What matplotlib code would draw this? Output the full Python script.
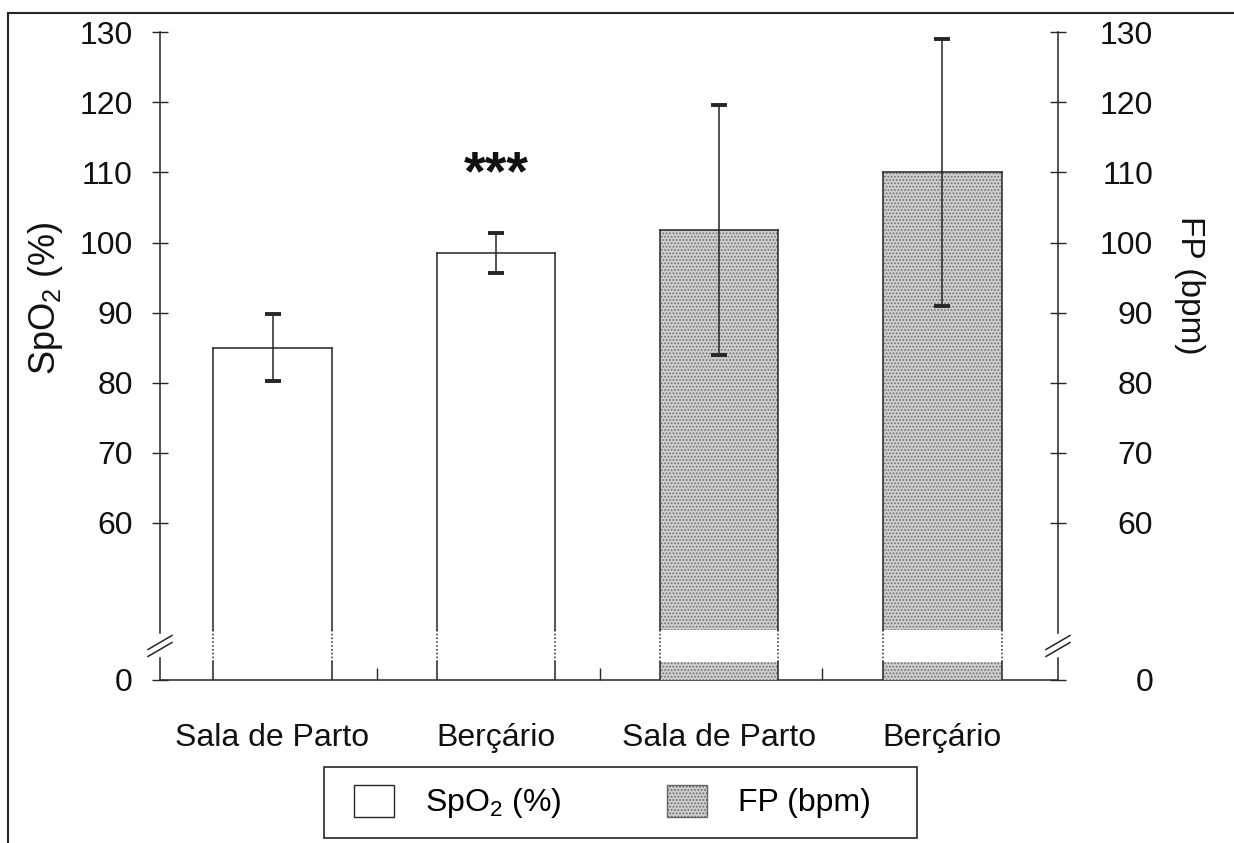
import numpy as np
import matplotlib
matplotlib.use('Agg')
import matplotlib.pyplot as plt
from matplotlib.patches import Patch, Rectangle
from matplotlib.lines import Line2D

plt.rcParams['font.family'] = ['Liberation Sans', 'DejaVu Sans']
plt.rcParams['hatch.color'] = '#6e6e6e'
plt.rcParams['hatch.linewidth'] = 0.8

# dados (media e desvio padrao)
grupos = ['Sala de Parto', 'Berçário', 'Sala de Parto', 'Berçário']
spo2_media = [85.0, 98.5]
spo2_dp = [4.8, 2.8]
fp_media = [101.8, 110.0]
fp_dp = [17.9, 19.0]
yticks = [0, 60, 70, 80, 90, 100, 110, 120, 130]
signif = '***'

# eixo y quebrado: trecho 0-60 comprimido
z0 = 37.6
def fwd(v):
    v = np.asarray(v, dtype=float)
    return np.where(v < 60, z0 + v * (60 - z0) / 60, v)

def inv(y):
    y = np.asarray(y, dtype=float)
    return np.where(y < 60, (y - z0) * 60 / (60 - z0), y)

brk_lo, brk_hi = 7, 19       # faixa da quebra nas barras
ax_lo, ax_hi = 8.5, 18       # faixa da quebra nos eixos
cor = '#262626'
cinza = '#cdcdcd'
fs = 23

x = np.arange(4)
w = 0.53

fig = plt.figure(figsize=(12.34, 8.43), dpi=100)
ax = fig.add_axes([0.12966, 0.19336, 0.72771, 0.76832])
ax.set_yscale('function', functions=(fwd, inv))
ax.set_ylim(0, 130)
ax.set_xlim(-0.504, 3.518)
ax2 = ax.twinx()
ax2.set_yscale('function', functions=(fwd, inv))
ax2.set_ylim(0, 130)

def contorno(a, xs, tops):
    for xc, top in zip(xs, tops):
        for xe in (xc - w / 2, xc + w / 2):
            a.plot([xe, xe], [0, brk_lo], color=cor, lw=1.1, zorder=3)
            a.plot([xe, xe], [brk_lo, brk_hi], color=cor, lw=1.1, ls=(0, (1, 1.5)), zorder=3)
            a.plot([xe, xe], [brk_hi, top], color=cor, lw=1.1, zorder=3)
        a.plot([xc - w / 2, xc + w / 2], [top, top], color=cor, lw=1.1, zorder=3)

# SpO2 - barras brancas
ax.bar(x[:2], spo2_media, w, color='white', linewidth=0, zorder=2)
contorno(ax, x[:2], spo2_media)
ax.errorbar(x[:2], spo2_media, yerr=spo2_dp, fmt='none', ecolor=cor,
            elinewidth=1.1, capsize=6, capthick=2.8, zorder=4)

# FP - barras pontilhadas
fp = np.array(fp_media)
ax2.bar(x[2:], brk_lo, w, color=cinza, hatch='.....', linewidth=0, zorder=2)
ax2.bar(x[2:], fp - brk_hi, w, bottom=brk_hi, color=cinza, hatch='.....', linewidth=0, zorder=2)
contorno(ax2, x[2:], fp_media)
ax2.errorbar(x[2:], fp_media, yerr=fp_dp, fmt='none', ecolor=cor,
             elinewidth=1.1, capsize=6, capthick=2.8, zorder=4)

ax.text(1, 107.6, signif, ha='center', va='baseline', fontsize=40,
        fontweight='bold', color='#111')

# eixos
for a in (ax, ax2):
    a.set_yticks(yticks)
    a.tick_params(axis='y', direction='inout', length=11, width=1,
                  labelsize=fs, color=cor, labelcolor='#111')
ax.tick_params(axis='y', pad=14)
ax2.tick_params(axis='y', pad=63)
for lab in ax2.get_yticklabels():
    lab.set_horizontalalignment('right')

ax.set_xticks(x, grupos)
ax.tick_params(axis='x', which='major', length=0, pad=31, labelsize=fs, labelcolor='#111')
ax.set_xticks([0.47, 1.467, 2.463], minor=True)
ax.tick_params(axis='x', which='minor', direction='in', length=9, width=1, color=cor)

for s in ('top', 'right'):
    ax.spines[s].set_visible(False)
for s in ('top', 'left', 'bottom'):
    ax2.spines[s].set_visible(False)
ax.spines['left'].set_bounds(ax_hi, 130)
ax2.spines['right'].set_bounds(ax_hi, 130)
for s in (ax.spines['left'], ax.spines['bottom'], ax2.spines['right']):
    s.set_color(cor)
    s.set_linewidth(1.1)
xl, xr = ax.get_xlim()
ax.plot([xl, xl], [0, ax_lo], color=cor, lw=1.1, clip_on=False)
ax2.plot([xr, xr], [0, ax_lo], color=cor, lw=1.1, clip_on=False)

# marcas de quebra
yc = float((fwd(13) - fwd(0)) / (fwd(130) - fwd(0)))
dx, dy, off = 12 / 898, 7 / 648, 3.5 / 648
for xa in (0, 1):
    for o in (-off, off):
        ax.plot([xa - dx, xa + dx], [yc - dy + o, yc + dy + o], color=cor, lw=1.1,
                transform=ax.transAxes, clip_on=False, zorder=5)

ax.set_ylabel(r'$\mathregular{SpO_2}$ (%)', fontsize=26, color='#111', va='center')
ax.yaxis.set_label_coords(-0.127, 0.5895)
ax2.set_ylabel('FP (bpm)', fontsize=24, color='#111', rotation=-90, va='center')
ax2.yaxis.set_label_coords(1.147, 0.6096)

# legenda
handles = [Patch(facecolor='white', edgecolor=cor, lw=1),
           Patch(facecolor=cinza, hatch='.....', edgecolor='#666', lw=1)]
leg = fig.legend(handles, [r'$\mathregular{SpO_2}$ (%)', 'FP (bpm)'], ncol=2,
                 loc='center left', bbox_to_anchor=(354 / 1234, 40.5 / 843),
                 frameon=False, fontsize=fs, handlelength=1.25, handleheight=1.16,
                 handletextpad=0.97, columnspacing=3.3, borderpad=0,
                 borderaxespad=0)
fig.add_artist(Rectangle((324 / 1234, 5 / 843), 593 / 1234, 71 / 843,
                         transform=fig.transFigure, fill=False,
                         edgecolor=cor, lw=1.2))

# moldura externa
fig.add_artist(Line2D([8 / 1234, 1], [1 - 13 / 843] * 2, color=cor, lw=1.5))
fig.add_artist(Line2D([8 / 1234] * 2, [0, 1 - 13 / 843], color=cor, lw=1.5))

fig.savefig('out.png', dpi=100)
